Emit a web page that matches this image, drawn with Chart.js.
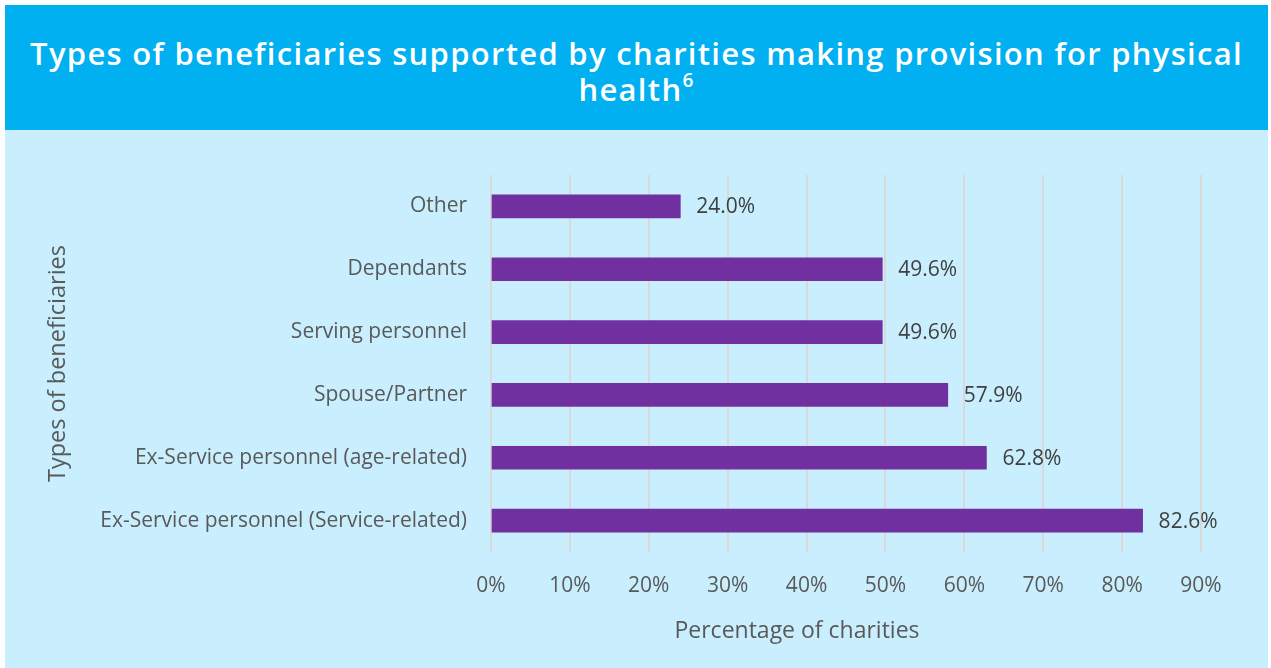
<!DOCTYPE html>
<html>
<head>
<meta charset="utf-8">
<script src="https://cdn.jsdelivr.net/npm/chart.js@4.4.1/dist/chart.umd.min.js"></script>
<style>
  html, body { margin: 0; padding: 0; background: #ffffff; }
  body { width: 1271px; height: 668px; position: relative; overflow: hidden; }
  #banner {
    position: absolute; left: 5px; top: 5px; width: 1263px; height: 125px;
    background: #00B0F0; color: #ffffff;
    font-family: "Open Sans", sans-serif; font-weight: 600; font-size: 31px;
    line-height: 36px; text-align: center;
    display: flex; align-items: center; justify-content: center;
    letter-spacing: 1.3px; box-sizing: border-box; padding: 6px 0 0 0;
  }
  #banner sup { font-size: 19px; line-height: 0; vertical-align: 14px; }
  #panel {
    position: absolute; left: 5px; top: 130px; width: 1263px; height: 538px;
    background: #C9EFFE;
  }
  #c { position: absolute; left: 0; top: 0; }
</style>
</head>
<body>
<div id="banner"><div>Types of beneficiaries supported by charities making provision for physical<br>health<sup>6</sup></div></div>
<div id="panel"><canvas id="c" width="1263" height="538"></canvas></div>
<script>
const categories = [
  "Other",
  "Dependants",
  "Serving personnel",
  "Spouse/Partner",
  "Ex-Service personnel (age-related)",
  "Ex-Service personnel (Service-related)"
];
const values = [24.0, 49.6, 49.6, 57.9, 62.8, 82.6];
const xTicks = [0, 10, 20, 30, 40, 50, 60, 70, 80, 90];
const xTitle = "Percentage of charities";
const yTitle = "Types of beneficiaries";

const labelPlugin = {
  id: 'barLabels',
  afterDatasetsDraw(chart) {
    const ctx = chart.ctx;
    const meta = chart.getDatasetMeta(0);
    ctx.save();
    ctx.font = '21px "Open Sans"';
    ctx.fillStyle = '#404040';
    ctx.textAlign = 'left';
    ctx.textBaseline = 'middle';
    meta.data.forEach((bar, i) => {
      ctx.fillText(values[i].toFixed(1) + '%', bar.x + 16, bar.y + 1);
    });
    ctx.restore();
  },
  afterDraw(chart) {
    const ctx = chart.ctx;
    ctx.save();
    ctx.font = '23px "Open Sans"';
    ctx.fillStyle = '#595959';
    ctx.textAlign = 'center';
    ctx.textBaseline = 'middle';
    ctx.fillText(xTitle, 792, 501);
    ctx.restore();
  }
};

new Chart(document.getElementById('c'), {
  type: 'bar',
  data: {
    labels: categories,
    datasets: [{
      data: values,
      backgroundColor: '#7030A0',
      borderWidth: 0,
      barThickness: 23
    }]
  },
  options: {
    indexAxis: 'y',
    responsive: false,
    animation: false,
    devicePixelRatio: 1,
    layout: { padding: { left: 30, right: 67, top: 45, bottom: 0 } },
    plugins: { legend: { display: false }, tooltip: { enabled: false } },
    scales: {
      x: {
        min: 0, max: 90,
        afterBuildTicks(scale) { scale.ticks = xTicks.map(v => ({ value: v })); },
        afterFit(scale) { scale.height = 116; },
        ticks: {
          callback: v => v + '%',
          color: '#595959',
          font: { family: 'Open Sans', size: 21 },
          padding: 21
        },
        grid: { color: '#D9D9D9', lineWidth: 2, drawTicks: false },
        border: { display: false },
        title: { display: false }
      },
      y: {
        afterFit(scale) { scale.width = 456; },
        ticks: {
          color: '#595959',
          font: { family: 'Open Sans', size: 21 },
          padding: 24
        },
        grid: { display: false, drawTicks: false },
        border: { display: false },
        title: {
          display: true, text: yTitle, color: '#595959',
          font: { family: 'Open Sans', size: 23.5 },
          padding: { top: 9, bottom: 0 }
        }
      }
    }
  },
  plugins: [labelPlugin]
});
</script>
</body>
</html>
